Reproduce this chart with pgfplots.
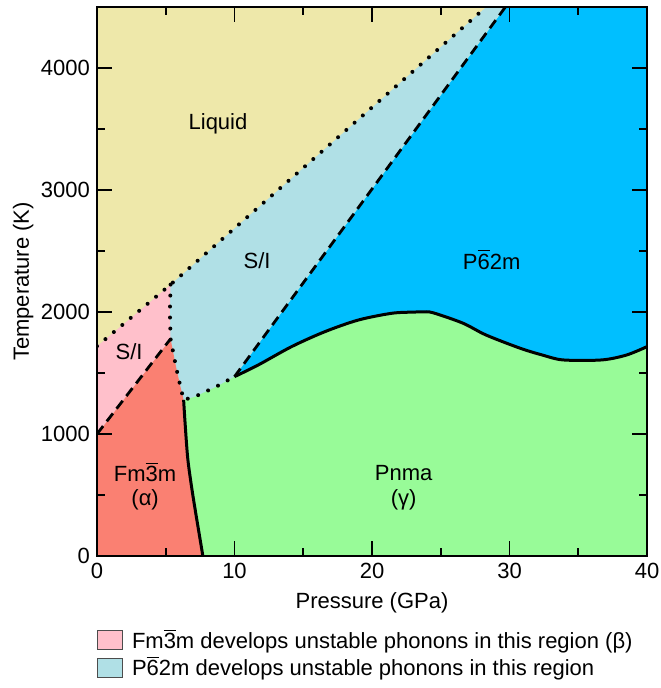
\documentclass[border=0pt]{standalone}
\usepackage{pgfplots}
\pgfplotsset{compat=1.18}
\usepackage{fontspec}
\setmainfont{Liberation Sans}
\definecolor{liquidc}{HTML}{EEE8AA}
\definecolor{pinkc}{HTML}{FFC0CB}
\definecolor{salmonc}{HTML}{FA8072}
\definecolor{lbluec}{HTML}{B0E0E6}
\definecolor{bluec}{HTML}{00BFFF}
\definecolor{greenc}{HTML}{98FB98}
\newcommand{\ob}[1]{\ensuremath{\overline{\mbox{#1}}}}
\begin{document}
\begin{tikzpicture}[x=1pt,y=1pt,font=\fontsize{11}{13}\selectfont]
\useasboundingbox (-48.5,-66) rectangle (281.5,278);
\begin{axis}[
  at={(0,0)}, anchor=south west,
  scale only axis, width=275pt, height=274.5pt,
  xmin=0, xmax=40, ymin=0, ymax=4500,
  xtick={0,10,20,30,40}, minor xtick={5,15,25,35},
  ytick={0,1000,2000,3000,4000}, minor ytick={500,1500,2500,3500},
  tick align=inside, major tick length=7.5pt, minor tick length=4pt,
  every tick/.style={black, line width=0.8pt},
  axis line style={line width=1pt},
  axis on top,
  axis background/.style={fill=greenc},
  /pgf/number format/assume math mode=true,
  /pgf/number format/1000 sep={},
  ticklabel style={font=\fontsize{11}{13}\selectfont},
  xlabel={Pressure (GPa)},
  ylabel={Temperature (K)},
  xlabel style={at={(axis description cs:0.5,0)}, anchor=base, yshift=-26pt},
  ylabel style={at={(axis description cs:-0.124,0.5)}, anchor=base},
  legend style={at={(axis description cs:0,-0.133)}, anchor=north west, draw=none, fill=none,
    inner sep=0pt, outer sep=0pt, row sep=2.5pt, nodes={inner sep=0pt, outer sep=0pt},
    /tikz/every odd column/.append style={column sep=4.5pt}},
  legend cell align=left,
]
% blue region (P-62m)
\addplot[draw=none, fill=bluec, forget plot] coordinates {(10,1470) (29.7,4500) (40,4500) (40,1470)} -- cycle;
% green below the gamma / P-62m curve
\addplot[draw=none, fill=greenc, smooth, forget plot] coordinates {
 (10,1470) (11.73,1566) (14.15,1716) (16.58,1839) (19.0,1934) (21.4,1989) (22.9,1999) (23.7,2000) (24.4,1995)
 (26.6,1909) (28.3,1811) (30.8,1702) (32.4,1647) (33.9,1607) (36.7,1607) (38.5,1647) (40,1716)} \closedcycle;
% light blue region (S/I, P-62m unstable)
\addplot[draw=none, fill=lbluec, forget plot] coordinates {(6.3,1280) (7.1,1305) (8.7,1390) (10,1470) (29.7,4500) (0,4500) (0,1000)} -- cycle;
% salmon region (alpha)
\addplot[draw=none, fill=salmonc, forget plot] coordinates {(0,0) (7.7,0) (7.3,270) (6.9,550) (6.6,800) (6.4,1100) (6.3,1280) (6.04,1402) (5.75,1549) (5.35,1780) (0,1000)} -- cycle;
% pink region (beta)
\addplot[draw=none, fill=pinkc, forget plot] coordinates {(0,1000) (5.35,1780) (5.3,2000) (5.35,2225) (0,1720)} -- cycle;
% liquid region
\addplot[draw=none, fill=liquidc, forget plot] coordinates {(0,1720) (5.35,2225) (28.3,4500) (0,4500)} -- cycle;

% boundaries
\addplot[black, line width=2pt, line cap=round, dash pattern=on 0pt off 5.5pt, forget plot] coordinates {(0,1720) (5.35,2225) (28.3,4500)};
\addplot[black, line width=2pt, line cap=round, dash pattern=on 0pt off 5.5pt, forget plot] coordinates {(5.35,2225) (5.3,2000) (5.35,1780) (5.75,1549) (6.04,1402) (6.3,1280) (7.1,1305) (8.7,1390) (10,1470)};
\addplot[black, line width=1.4pt, dash pattern=on 5pt off 3pt, forget plot] coordinates {(0,1000) (5.35,1780)};
\addplot[black, line width=1.4pt, dash pattern=on 5pt off 3pt, forget plot] coordinates {(10,1470) (29.7,4500)};
\addplot[black, line width=1.5pt, smooth, forget plot] coordinates {(7.7,0) (7.3,270) (6.9,550) (6.6,800) (6.4,1100) (6.3,1280)};
\addplot[black, line width=1.5pt, smooth, forget plot] coordinates {
 (10,1470) (11.73,1566) (14.15,1716) (16.58,1839) (19.0,1934) (21.4,1989) (22.9,1999) (23.7,2000) (24.4,1995)
 (26.6,1909) (28.3,1811) (30.8,1702) (32.4,1647) (33.9,1607) (36.7,1607) (38.5,1647) (40,1716)};

% labels
\node[anchor=base] at (axis cs:8.8,3497) {Liquid};
\node[anchor=base] at (axis cs:11.64,2358) {S/I};
\node[anchor=base] at (axis cs:28.7,2352) {P\ob{6}2m};
\node[anchor=base] at (axis cs:2.33,1607) {S/I};
\node[anchor=base] at (axis cs:3.5,610) {Fm\ob{3}m};
\node[anchor=base] at (axis cs:3.5,418) {(α)};
\node[anchor=base] at (axis cs:22.3,615) {Pnma};
\node[anchor=base] at (axis cs:22.3,418) {(γ)};

% legend
\addlegendimage{legend image code/.code={\draw[fill=pinkc, draw=black!70, line width=0.5pt] (0pt,-4.75pt) rectangle (12.5pt,4.75pt);}}
\addlegendentry{Fm\ob{3}m develops unstable phonons in this region (β)}
\addlegendimage{legend image code/.code={\draw[fill=lbluec, draw=black!70, line width=0.5pt] (0pt,-4.75pt) rectangle (12.5pt,4.75pt);}}
\addlegendentry{P\ob{6}2m develops unstable phonons in this region}
\end{axis}
\end{tikzpicture}
\end{document}
